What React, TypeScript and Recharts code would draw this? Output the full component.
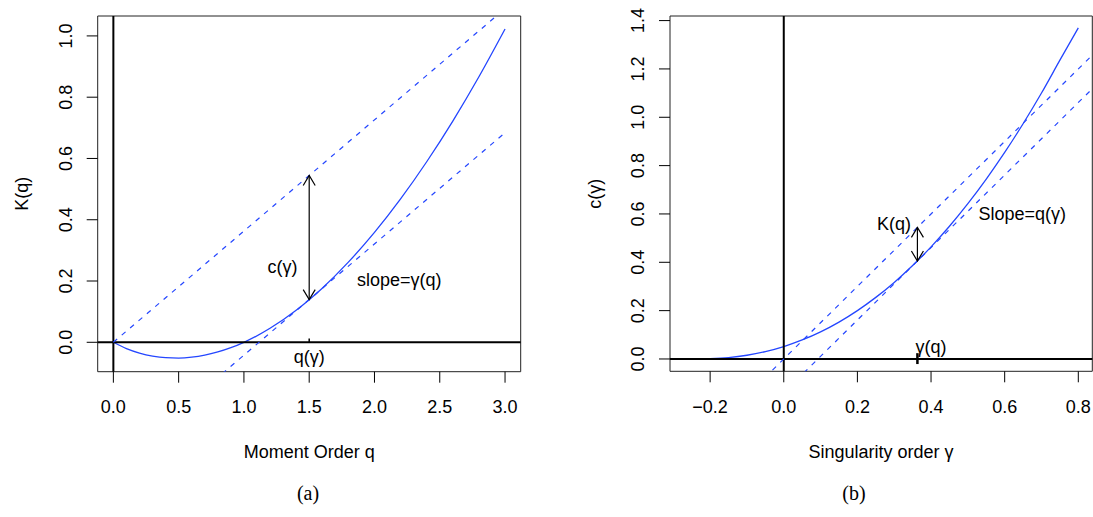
import React from 'react';
import {
  LineChart,
  Line,
  XAxis,
  YAxis,
  ReferenceLine,
  ReferenceArea,
  ReferenceDot,
} from 'recharts';

const FONT = '"Liberation Sans", Arial, Helvetica, sans-serif';
const SERIF = '"Liberation Serif", "Times New Roman", serif';
const BLUE = '#2446ff';

// ---------- Panel (a): K(q) ----------
const qValues = [0, 0.1, 0.2, 0.3, 0.4, 0.5, 0.6, 0.7, 0.8, 0.9, 1.0, 1.2, 1.4, 1.5, 1.6, 1.8, 2.0, 2.2, 2.4, 2.6, 2.8, 3.0];
const kValues = [0, -0.0204, -0.035, -0.0449, -0.0503, -0.0515, -0.0487, -0.0421, -0.0316, -0.0176, 0, 0.0456, 0.1047, 0.1392, 0.1767, 0.2616, 0.3586, 0.468, 0.5893, 0.7221, 0.8666, 1.0225];
const dashQ = [0, 3];
const upperDashK = [0, 1.089];
const lowerDashK = [-0.405, 0.684];
const xTicksA = [0, 0.5, 1, 1.5, 2, 2.5, 3];
const yTicksA = [0, 0.2, 0.4, 0.6, 0.8, 1.0];
const xDomainA = [-0.12, 3.12];
const yDomainA = [-0.096, 1.065];
const qStar = 1.5;
const kStar = 0.1392;
const kUpperAtStar = 0.5445;

// ---------- Panel (b): c(gamma) ----------
const gammaValues = [-0.2, -0.15, -0.1, -0.05, 0, 0.05, 0.1, 0.15, 0.2, 0.25, 0.3, 0.35, 0.4, 0.45, 0.5, 0.55, 0.6, 0.65, 0.7, 0.75, 0.8];
const cValues = [0.001, 0.0058, 0.0154, 0.0305, 0.0514, 0.0786, 0.1122, 0.1526, 0.2001, 0.2548, 0.3168, 0.3865, 0.464, 0.5493, 0.6428, 0.7445, 0.8546, 0.9731, 1.1003, 1.2362, 1.37];
const dashG = [-0.35, 0.9];
const originDashC = [-0.525, 1.35];
const tangentDashC = [-0.664, 1.211];
const xTicksB = [-0.2, 0, 0.2, 0.4, 0.6, 0.8];
const yTicksB = [0, 0.2, 0.4, 0.6, 0.8, 1.0, 1.2, 1.4];
const xDomainB = [-0.309, 0.838];
const yDomainB = [-0.051, 1.419];
const gammaStar = 0.363;
const cStar = 0.4053;
const cUpperAtStar = 0.5445;

const toPts = (xs: number[], ys: number[]) => xs.map((x, i) => ({ x, y: ys[i] }));

const fmt = (v: number) => (v < 0 ? '\u2212' + Math.abs(v).toFixed(1) : v.toFixed(1));

const XTick = (props: any) => {
  const { x, y, payload } = props;
  return (
    <text x={x} y={y + 30.6} textAnchor="middle" fontFamily={FONT} fontSize={18} fill="#000">
      {fmt(payload.value)}
    </text>
  );
};

const YTick = (props: any) => {
  const { x, y, payload } = props;
  const bx = x - 15;
  return (
    <text x={bx} y={y} transform={`rotate(-90 ${bx} ${y})`} textAnchor="middle" fontFamily={FONT} fontSize={18} fill="#000">
      {fmt(payload.value)}
    </text>
  );
};

const textShape = (label: string) => (p: any) => (
  <text x={p.cx} y={p.cy} dy="0.36em" textAnchor="middle" fontFamily={FONT} fontSize={18} fill="#000">
    {label}
  </text>
);

const ArrowShape = (p: any) => {
  const { x1, y1, y2 } = p;
  const top = Math.min(y1, y2);
  const bot = Math.max(y1, y2);
  const h = 10;
  const w = 6;
  return (
    <g stroke="#000" strokeWidth={1.2} fill="none">
      <line x1={x1} y1={top} x2={x1} y2={bot} />
      <polyline points={`${x1 - w},${top + h} ${x1},${top} ${x1 + w},${top + h}`} />
      <polyline points={`${x1 - w},${bot - h} ${x1},${bot} ${x1 + w},${bot - h}`} />
    </g>
  );
};

const curveA = toPts(qValues, kValues);
const upperA = toPts(dashQ, upperDashK);
const lowerA = toPts(dashQ, lowerDashK);
const curveB = toPts(gammaValues, cValues);
const originB = toPts(dashG, originDashC);
const tangentB = toPts(dashG, tangentDashC);

const axisCommon = {
  tickSize: 11,
  tickMargin: 0,
  axisLine: false,
  tickLine: { stroke: '#000', strokeWidth: 1 },
  interval: 0 as const,
  allowDataOverflow: true,
};

export default function App() {
  return (
    <div style={{ position: 'absolute', left: 0, top: 0, width: 1093, height: 517, background: '#fff' }}>
      <div style={{ position: 'absolute', left: 0, top: 0 }}>
        <LineChart width={540} height={517} margin={{ top: 16, right: 19.3, bottom: 0, left: 0 }}>
          <XAxis dataKey="x" type="number" domain={xDomainA} ticks={xTicksA} height={145.3} tick={<XTick />} {...axisCommon} />
          <YAxis dataKey="y" type="number" domain={yDomainA} ticks={yTicksA} width={97.7} tick={<YTick />} {...axisCommon} />
          <ReferenceArea x1={xDomainA[0]} x2={xDomainA[1]} y1={yDomainA[0]} y2={yDomainA[1]} fill="none" fillOpacity={0} stroke="#222" strokeWidth={1} ifOverflow="visible" />
          <Line data={curveA} dataKey="y" type="monotone" stroke={BLUE} strokeWidth={1.3} dot={false} isAnimationActive={false} />
          <ReferenceLine y={0} stroke="#000" strokeWidth={2} />
          <ReferenceLine x={0} stroke="#000" strokeWidth={2} />
          <Line data={upperA} dataKey="y" type="linear" stroke={BLUE} strokeWidth={1.2} strokeDasharray="5 6" dot={false} isAnimationActive={false} />
          <Line data={lowerA} dataKey="y" type="linear" stroke={BLUE} strokeWidth={1.2} strokeDasharray="5 6" dot={false} isAnimationActive={false} />
          <ReferenceLine segment={[{ x: qStar, y: kStar }, { x: qStar, y: kUpperAtStar }]} shape={ArrowShape} />
          <ReferenceLine segment={[{ x: qStar, y: 0 }, { x: qStar, y: 0.012 }]} stroke="#000" strokeWidth={1.5} />
          <ReferenceDot x={1.295} y={0.246} r={0} shape={textShape('c(\u03b3)')} />
          <ReferenceDot x={2.19} y={0.204} r={0} shape={textShape('slope=\u03b3(q)')} />
          <ReferenceDot x={1.5} y={-0.047} r={0} shape={textShape('q(\u03b3)')} />
        </LineChart>
      </div>
      <div style={{ position: 'absolute', left: 546, top: 0 }}>
        <LineChart width={547} height={517} margin={{ top: 16, right: 0.7, bottom: 0, left: 0 }}>
          <XAxis dataKey="x" type="number" domain={xDomainB} ticks={xTicksB} height={145.7} tick={<XTick />} {...axisCommon} />
          <YAxis dataKey="y" type="number" domain={yDomainB} ticks={yTicksB} width={124} tick={<YTick />} {...axisCommon} />
          <ReferenceArea x1={xDomainB[0]} x2={xDomainB[1]} y1={yDomainB[0]} y2={yDomainB[1]} fill="none" fillOpacity={0} stroke="#222" strokeWidth={1} ifOverflow="visible" />
          <Line data={curveB} dataKey="y" type="monotone" stroke={BLUE} strokeWidth={1.3} dot={false} isAnimationActive={false} />
          <ReferenceLine y={0} stroke="#000" strokeWidth={2} />
          <ReferenceLine x={0} stroke="#000" strokeWidth={2} />
          <Line data={originB} dataKey="y" type="linear" stroke={BLUE} strokeWidth={1.2} strokeDasharray="5 6" dot={false} isAnimationActive={false} />
          <Line data={tangentB} dataKey="y" type="linear" stroke={BLUE} strokeWidth={1.2} strokeDasharray="5 6" dot={false} isAnimationActive={false} />
          <ReferenceLine segment={[{ x: gammaStar, y: cStar }, { x: gammaStar, y: cUpperAtStar }]} shape={ArrowShape} />
          <ReferenceLine segment={[{ x: gammaStar, y: -0.021 }, { x: gammaStar, y: 0.024 }]} stroke="#000" strokeWidth={2.5} />
          <ReferenceDot x={0.2995} y={0.561} r={0} shape={textShape('K(q)')} />
          <ReferenceDot x={0.648} y={0.603} r={0} shape={textShape('Slope=q(\u03b3)')} />
          <ReferenceDot x={0.4} y={0.0497} r={0} shape={textShape('\u03b3(q)')} />
        </LineChart>
      </div>
      <svg width={1093} height={517} style={{ position: 'absolute', left: 0, top: 0, pointerEvents: 'none' }}>
        <text x={28.3} y={193.8} transform="rotate(-90 28.3 193.8)" textAnchor="middle" fontFamily={FONT} fontSize={18} fill="#000">K(q)</text>
        <text x={309.2} y={458.3} textAnchor="middle" fontFamily={FONT} fontSize={18} fill="#000">Moment Order q</text>
        <text x={600.6} y={193.7} transform="rotate(-90 600.6 193.7)" textAnchor="middle" fontFamily={FONT} fontSize={18} fill="#000">{'c(\u03b3)'}</text>
        <text x={881} y={458.3} textAnchor="middle" fontFamily={FONT} fontSize={18} fill="#000">{'Singularity order \u03b3'}</text>
        <text x={308} y={500} textAnchor="middle" fontFamily={SERIF} fontSize={20} fill="#000">(a)</text>
        <text x={854} y={500} textAnchor="middle" fontFamily={SERIF} fontSize={20} fill="#000">(b)</text>
      </svg>
    </div>
  );
}
